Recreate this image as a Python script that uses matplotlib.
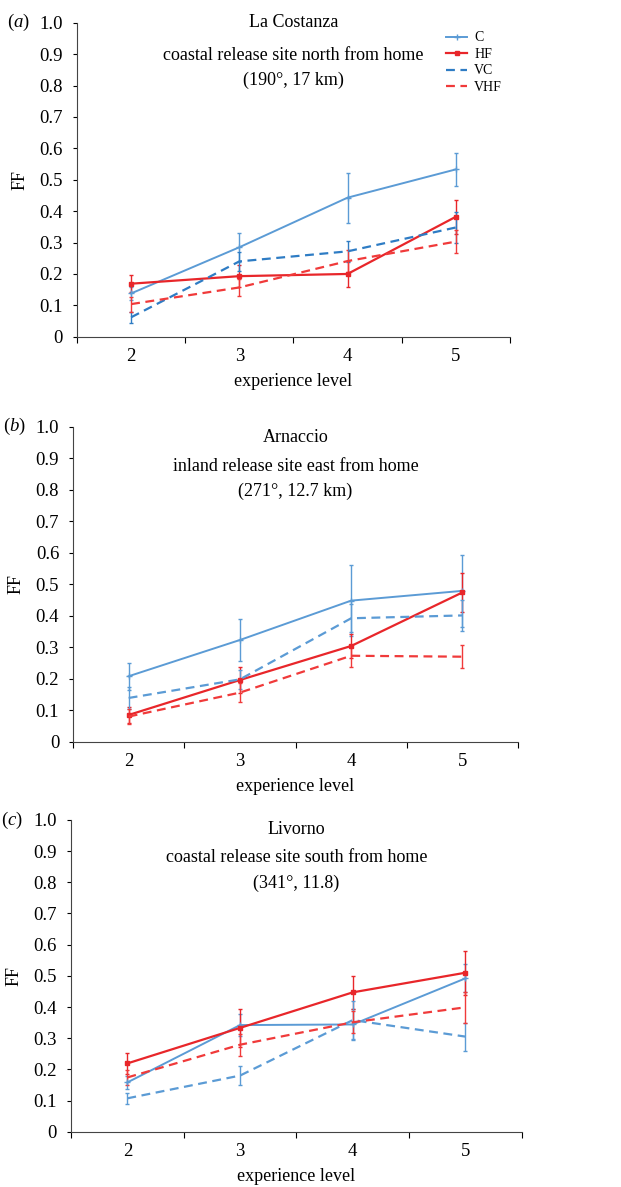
import numpy as np
import matplotlib
matplotlib.use('Agg')
import matplotlib.pyplot as plt
from matplotlib.lines import Line2D

plt.rcParams['font.family'] = ['Liberation Serif', 'DejaVu Serif']
plt.rcParams['mathtext.fontset'] = 'custom'
plt.rcParams['mathtext.it'] = 'Liberation Serif:italic'
plt.rcParams['mathtext.rm'] = 'Liberation Serif'

levels = ['2', '3', '4', '5']
series = ['C', 'HF', 'VC', 'VHF']

# panel (a) La Costanza
a_mean = {'C': [0.138, 0.285, 0.443, 0.533], 'HF': [0.169, 0.193, 0.200, 0.382],
          'VC': [0.062, 0.240, 0.272, 0.348], 'VHF': [0.104, 0.157, 0.241, 0.303]}
a_err = {'C': [0.02, 0.047, 0.080, 0.053], 'HF': [0.027, 0.035, 0.040, 0.055],
         'VC': [0.017, 0.03, 0.034, 0.048], 'VHF': [0.024, 0.027, 0.035, 0.037]}
# panel (b) Arnaccio
b_mean = {'C': [0.208, 0.323, 0.448, 0.479], 'HF': [0.085, 0.196, 0.304, 0.474],
          'VC': [0.139, 0.198, 0.392, 0.401], 'VHF': [0.080, 0.156, 0.273, 0.270]}
b_err = {'C': [0.043, 0.066, 0.113, 0.114], 'HF': [0.025, 0.040, 0.037, 0.063],
         'VC': [0.035, 0.03, 0.045, 0.05], 'VHF': [0.025, 0.030, 0.035, 0.037]}
# panel (c) Livorno
c_mean = {'C': [0.158, 0.342, 0.344, 0.492], 'HF': [0.219, 0.333, 0.447, 0.510],
          'VC': [0.107, 0.180, 0.358, 0.305], 'VHF': [0.174, 0.279, 0.351, 0.399]}
c_err = {'C': [0.02, 0.035, 0.05, 0.045], 'HF': [0.033, 0.060, 0.052, 0.070],
         'VC': [0.018, 0.03, 0.06, 0.045], 'VHF': [0.025, 0.035, 0.035, 0.05]}

styles = {'C': dict(color='#5b9bd5', ls='-', marker='+', ms=4, lw=1.4),
          'HF': dict(color='#e8262a', ls='-', marker='s', ms=3.5, lw=1.6),
          'VC': dict(color='#2e7cc4', ls=(0, (4, 2.5)), marker='', ms=0, lw=1.6),
          'VHF': dict(color='#f03a3a', ls=(0, (4, 2.5)), marker='', ms=0, lw=1.6)}

panels = [
    ('a', 'La Costanza', 'coastal release site north from home', '(190°, 17 km)',
     a_mean, a_err, [0.124, 0.7163, 0.697, 0.2645], [1.002, 0.897, 0.817], True),
    ('b', 'Arnaccio', 'inland release site east from home', '(271°, 12.7 km)',
     b_mean, b_err, [0.1176, 0.3751, 0.7166, 0.2654], [0.965, 0.875, 0.794], False),
    ('c', 'Livorno', 'coastal release site south from home', '(341°, 11.8)',
     c_mean, c_err, [0.1143, 0.0466, 0.726, 0.2626], [0.968, 0.879, 0.797], False),
]

fig = plt.figure(figsize=(6.21, 11.87), dpi=100)
x = np.arange(len(levels)) + 0.5

for tag, site, desc, coords, means, errs, pos, ty, show_leg in panels:
    ax = fig.add_axes(pos)
    handles = []
    for s in series:
        st = styles[s]
        col = st['color']
        if tag != 'a' and s == 'VC':
            col = '#5b9bd5'
        ax.errorbar(x, means[s], yerr=errs[s], color=col, ls=st['ls'], lw=st['lw'],
                    marker=st['marker'], ms=st['ms'], capsize=1.5, elinewidth=1.0,
                    capthick=1.0)
        handles.append(Line2D([], [], color=col, ls=st['ls'], lw=st['lw'],
                              marker=st['marker'], ms=st['ms'], label=s))
    ax.set_xlim(0, 4)
    ax.set_ylim(0, 1.0)
    ax.set_xticks([0, 1, 2, 3, 4])
    ax.set_xticklabels([])
    ax.set_xticks(x, minor=True)
    ax.set_xticklabels(levels, minor=True)
    ax.tick_params(axis='x', which='minor', length=0, pad=8, labelsize=13.5)
    ax.tick_params(axis='x', which='major', direction='out', length=4)
    yt = np.arange(0, 1.01, 0.1)
    ax.set_yticks(yt)
    ax.set_yticklabels(['0'] + ['%.1f' % v for v in yt[1:]])
    ax.tick_params(axis='y', direction='out', length=3, labelsize=13.5, pad=7)
    for sp in ['top', 'right']:
        ax.spines[sp].set_visible(False)
    ax.spines['left'].set_color('#444444')
    ax.spines['bottom'].set_color('#444444')
    ax.set_xlabel('experience level', fontsize=13, labelpad=6)
    ax.set_ylabel('FF', fontsize=13, labelpad=8)
    ax.text(0.5, ty[0], site, transform=ax.transAxes, ha='center', va='center', fontsize=13)
    ax.text(0.5, ty[1], desc, transform=ax.transAxes, ha='center', va='center', fontsize=13)
    ax.text(0.5, ty[2], coords, transform=ax.transAxes, ha='center', va='center', fontsize=13)
    fig.text(pos[0] - 0.112, pos[1] + pos[3], '(' + r'$\it{' + tag + '}$' + ')',
             ha='left', va='center', fontsize=13.5)
    if show_leg:
        ax.legend(handles=handles, loc='upper right', bbox_to_anchor=(0.995, 0.99),
                  frameon=False, fontsize=10, handlelength=1.5, handletextpad=0.5,
                  labelspacing=0.25, borderaxespad=0)

fig.savefig('out.png', dpi=100)
